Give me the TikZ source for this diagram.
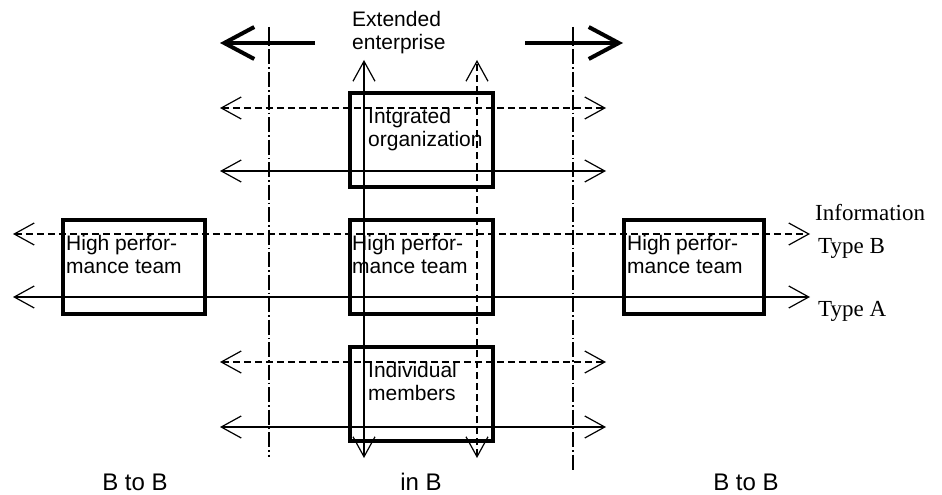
\documentclass[tikz,border=0pt]{standalone}
\usepackage{fontspec}
\newfontfamily\arialf{Liberation Sans}
\newfontfamily\timesf{Liberation Serif}
\usetikzlibrary{arrows.meta}
\begin{document}
\begin{tikzpicture}[
    x=1pt, y=-1pt,
    every node/.style={inner sep=0pt, font=\arialf\fontsize{21}{23}\selectfont},
    team box/.style={draw, line width=4pt, minimum width=143pt, minimum height=94pt},
    box text/.style={align=left, anchor=base west},
    info label/.style={anchor=base west, font=\timesf\fontsize{23}{26}\selectfont},
    scope label/.style={anchor=base, font=\arialf\fontsize{24}{26}\selectfont},
    info line/.style={draw, line width=1.2pt, {Straight Barb[length=20pt,width=22pt]}-{Straight Barb[length=20pt,width=22pt]}},
    info dashed/.style={info line, dash pattern=on 7pt off 4pt},
    border line/.style={draw, line width=1.2pt, dash pattern=on 15pt off 3pt on 1.5pt off 3pt},
    wide arrow/.style={draw, line width=4pt, -{Straight Barb[length=30pt,width=32pt]}},
    ]
\useasboundingbox (0,0) rectangle (942,495);
\node[team box] (orgBox) at (421.5,139.5) {};
\node[team box] (teamBox) at (421.5,267) {};
\node[team box] (memberBox) at (421.5,393.5) {};
\node[team box, minimum width=142pt] (leftBox) at (134,266.5) {};
\node[team box, minimum width=140pt] (rightBox) at (693.5,267) {};
% two-line texts sit on their second baseline
\node[box text] (orgText) at (368,146) {Intgrated\\organization};
\node[box text] (teamText) at (352,273) {High perfor-\\mance team};
\node[box text] (memberText) at (368,400) {Individual\\members};
\node[box text] (leftText) at (66,273) {High perfor-\\mance team};
\node[box text] (rightText) at (627,273) {High perfor-\\mance team};
\node[box text] (extText) at (352,50) {Extended\\enterprise};
\node[info label] (infoText) at (815,220) {Information};
\node[info label] (typeB) at (818,253) {Type B};
\node[info label] (typeA) at (818,316) {Type A};
\node[scope label] (leftScope) at (135,490) {B to B};
\node[scope label] (midScope) at (421,490) {in B};
\node[scope label] (rightScope) at (746,490) {B to B};
% boundaries of the enterprise
\coordinate (bdLeftTop) at (269,27);
\coordinate (bdLeftBot) at (269,457);
\coordinate (bdRightTop) at (573,27);
\coordinate (bdRightBot) at (573,470);
\draw[border line] (bdLeftTop) -- (bdLeftBot);
\draw[border line] (bdRightTop) -- (bdRightBot);
% extension arrows
\coordinate (extLeftFrom) at (315,43);
\coordinate (extLeftTo) at (220,43);
\coordinate (extRightFrom) at (525,43);
\coordinate (extRightTo) at (623,43);
\draw[wide arrow] (extLeftFrom) -- (extLeftTo);
\draw[wide arrow] (extRightFrom) -- (extRightTo);
% vertical flows
\coordinate (vaTop) at (364,60);
\coordinate (vaBot) at (364,458);
\coordinate (vbTop) at (477,60);
\coordinate (vbBot) at (477,458);
\draw[info line] (vaBot) -- (vaTop);
\draw[info dashed] (vbBot) -- (vbTop);
% horizontal flows
\coordinate (orgBW) at (220,108);
\coordinate (orgBE) at (606,108);
\coordinate (orgAW) at (220,171);
\coordinate (orgAE) at (606,171);
\coordinate (teamBW) at (13,234);
\coordinate (teamBE) at (810,234);
\coordinate (teamAW) at (13,297);
\coordinate (teamAE) at (810,297);
\coordinate (memberBW) at (220,362);
\coordinate (memberBE) at (606,362);
\coordinate (memberAW) at (220,427);
\coordinate (memberAE) at (606,427);
\draw[info dashed] (orgBW) -- (orgBE);
\draw[info line] (orgAW) -- (orgAE);
\draw[info dashed] (teamBW) -- (teamBE);
\draw[info line] (teamAW) -- (teamAE);
\draw[info dashed] (memberBW) -- (memberBE);
\draw[info line] (memberAW) -- (memberAE);
\end{tikzpicture}
\end{document}
